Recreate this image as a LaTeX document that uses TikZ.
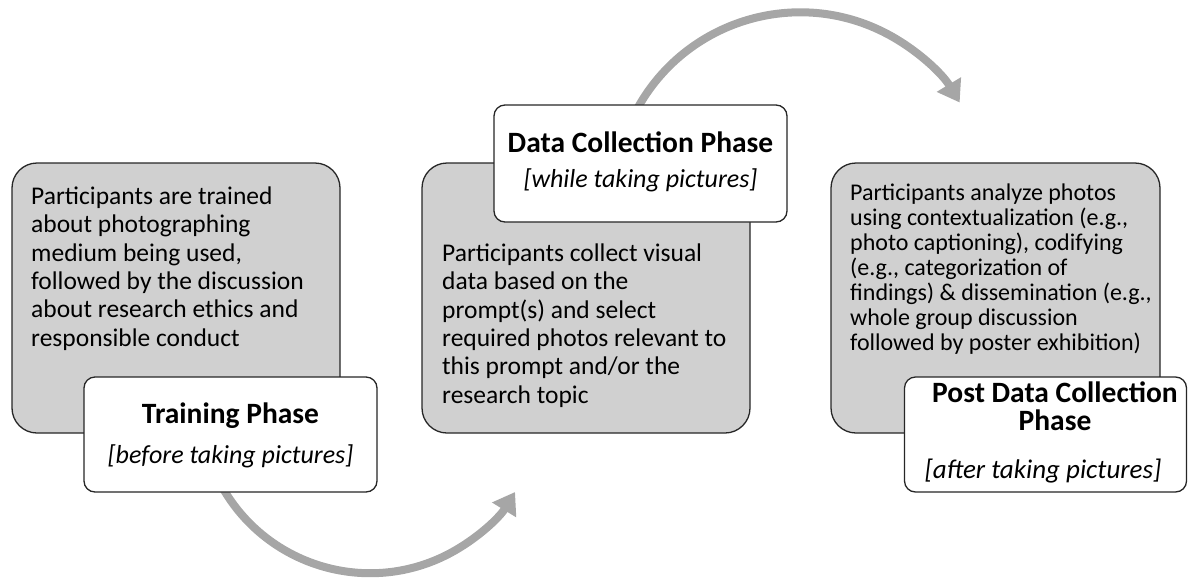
\documentclass[tikz,border=0pt]{standalone}
\usepackage{fontspec}
\setmainfont{Carlito}
\usetikzlibrary{arrows.meta}
\definecolor{boxgray}{HTML}{D0D0D0}
\definecolor{arrowgray}{HTML}{A6A6A6}
\definecolor{edgegray}{HTML}{262626}
\tikzstyle{phasebox} = [draw=edgegray, line width=1.3pt, fill=boxgray, rounded corners=25pt, inner sep=0pt]
\tikzstyle{titlebox} = [draw=edgegray, line width=1.3pt, fill=white, rounded corners=11pt, inner sep=0pt]
\tikzstyle{bodytext} = [anchor=base west, inner sep=0pt, align=left, font=\fontsize{25.5}{28.3}\selectfont]
\tikzstyle{titletext} = [anchor=base, inner sep=0pt, align=center, font=\fontsize{29.5}{28}\selectfont\bfseries]
\tikzstyle{subtext} = [anchor=base, inner sep=0pt, font=\fontsize{26}{28}\selectfont\itshape]
\tikzstyle{cyclearrow} = [draw=arrowgray, line width=8pt, -{Triangle[length=21pt, width=27pt]}]

\begin{document}
\begin{tikzpicture}[x=1pt, y=-1pt]
    \useasboundingbox (0,0) rectangle (1188,579);
    % arcs between the phases, drawn first so the boxes cover their tails
    \coordinate (lowstart) at (220,483);
    \coordinate (highstart) at (636,111);
    \draw [cyclearrow] (lowstart) arc [start angle=-152, end angle=-31.5, radius=170pt];
    \draw [cyclearrow] (highstart) arc [start angle=152, end angle=31, radius=186pt];
    % training phase (text placed by the baseline of its last line)
    \node (train) [phasebox, minimum width=328pt, minimum height=270pt] at (176,298) {};
    \node (traintext) [bodytext] at (31,346) {Participants are trained\\about photographing\\medium being used,\\followed by the discussion\\about research ethics and\\responsible conduct};
    \node (trainlabel) [titlebox, minimum width=293pt, minimum height=115pt] at (230.5,434.5) {};
    \node (traintitle) [titletext] at (230.5,423) {Training Phase};
    \node (trainsub) [subtext] at (230.5,463) {[before taking pictures]};
    % data collection phase
    \node (collect) [phasebox, minimum width=328pt, minimum height=270pt] at (586,298) {};
    \node (collecttext) [bodytext] at (442,403) {Participants collect visual\\data based on the\\prompt(s) and select\\required photos relevant to\\this prompt and/or the\\research topic};
    \node (collectlabel) [titlebox, minimum width=293pt, minimum height=117pt] at (640.5,163.5) {};
    \node (collecttitle) [titletext] at (640.5,152) {Data Collection Phase};
    \node (collectsub) [subtext] at (640.5,187) {[while taking pictures]};
    % post data collection phase
    \node (post) [phasebox, minimum width=329pt, minimum height=270pt] at (995.5,298) {};
    \node (posttext) [bodytext, font=\fontsize{24}{25}\selectfont] at (850,350) {Participants analyze photos\\using contextualization (e.g.,\\photo captioning), codifying\\(e.g., categorization of\\findings) \& dissemination (e.g.,\\whole group discussion\\followed by poster exhibition)};
    \node (postlabel) [titlebox, minimum width=282pt, minimum height=115pt] at (1045.5,434.5) {};
    \node (posttitle) [titletext] at (1055,430) {Post Data Collection\\Phase};
    \node (postsub) [subtext, font=\fontsize{27}{28}\selectfont\itshape] at (1043,478) {[after taking pictures]};
\end{tikzpicture}
\end{document}
